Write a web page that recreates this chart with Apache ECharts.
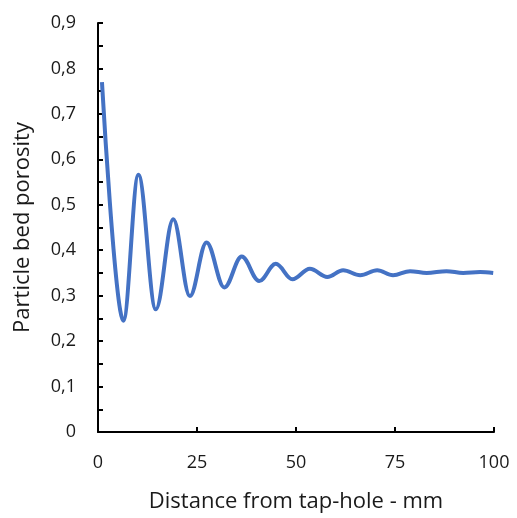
<!DOCTYPE html>
<html>
<head>
<meta charset="utf-8">
<script src="https://cdn.jsdelivr.net/npm/echarts@6/dist/echarts.min.js"></script>
<style>
  html, body { margin: 0; padding: 0; background: #fff; }
  #chart { width: 517px; height: 518px; }
</style>
</head>
<body>
<div id="chart"></div>
<script>
// Porosity turning points along the distance from the tap-hole (mm)
const distance = [1.0, 6.4, 10.2, 14.6, 19.0, 23.2, 27.4, 31.9, 36.3, 40.7, 44.9, 49.1,
  53.5, 57.9, 61.9, 66.2, 70.5, 74.5, 78.8, 83.0, 88.0, 92.2, 96.5, 99.8];
const porosity = [0.770, 0.245, 0.566, 0.270, 0.468, 0.299, 0.417, 0.318, 0.386, 0.332,
  0.370, 0.336, 0.359, 0.341, 0.356, 0.345, 0.356, 0.345, 0.354, 0.350, 0.354, 0.350,
  0.352, 0.350];

const xTicks = [0, 25, 50, 75, 100];
const yTicks = [0, 0.1, 0.2, 0.3, 0.4, 0.5, 0.6, 0.7, 0.8, 0.9];

const FONT = '"Open Sans", sans-serif';
const TEXT = '#1a1a1a';
const axisLine = { show: true, lineStyle: { color: '#000', width: 2 } };
const tickStyle = { color: '#000', width: 2 };

const chart = echarts.init(document.getElementById('chart'), null, { renderer: 'canvas' });
chart.setOption({
  animation: false,
  backgroundColor: '#fff',
  grid: { left: 98, right: 23, top: 23, bottom: 81 },
  xAxis: {
    type: 'value',
    min: xTicks[0],
    max: xTicks[xTicks.length - 1],
    interval: xTicks[1] - xTicks[0],
    name: 'Distance from tap-hole - mm',
    nameLocation: 'middle',
    nameGap: 59,
    nameTextStyle: { fontFamily: FONT, fontSize: 22, color: TEXT },
    axisLine: axisLine,
    axisTick: { show: true, inside: true, length: 5, lineStyle: tickStyle },
    axisLabel: { margin: 22, fontFamily: FONT, fontSize: 18, color: TEXT },
    splitLine: { show: false }
  },
  yAxis: {
    type: 'value',
    min: yTicks[0],
    max: yTicks[yTicks.length - 1],
    interval: yTicks[1] - yTicks[0],
    name: 'Particle bed porosity',
    nameLocation: 'middle',
    nameGap: 64,
    nameTextStyle: { fontFamily: FONT, fontSize: 22, color: TEXT },
    axisLine: axisLine,
    axisTick: { show: true, inside: true, length: 5, lineStyle: tickStyle },
    minorTick: { show: true, splitNumber: 2, length: 5, lineStyle: tickStyle },
    axisLabel: {
      margin: 22,
      fontFamily: FONT,
      fontSize: 18,
      color: TEXT,
      formatter: v => (Math.round(v * 10) / 10).toString().replace('.', ',')
    },
    splitLine: { show: false }
  },
  series: [{
    type: 'line',
    data: distance.map((d, i) => [d, porosity[i]]),
    // horizontal tangents at each turning point give a wave-like curve
    smooth: 0.36,
    smoothMonotone: 'x',
    showSymbol: false,
    lineStyle: { color: '#4472C4', width: 4 }
  }]
});
</script>
</body>
</html>
